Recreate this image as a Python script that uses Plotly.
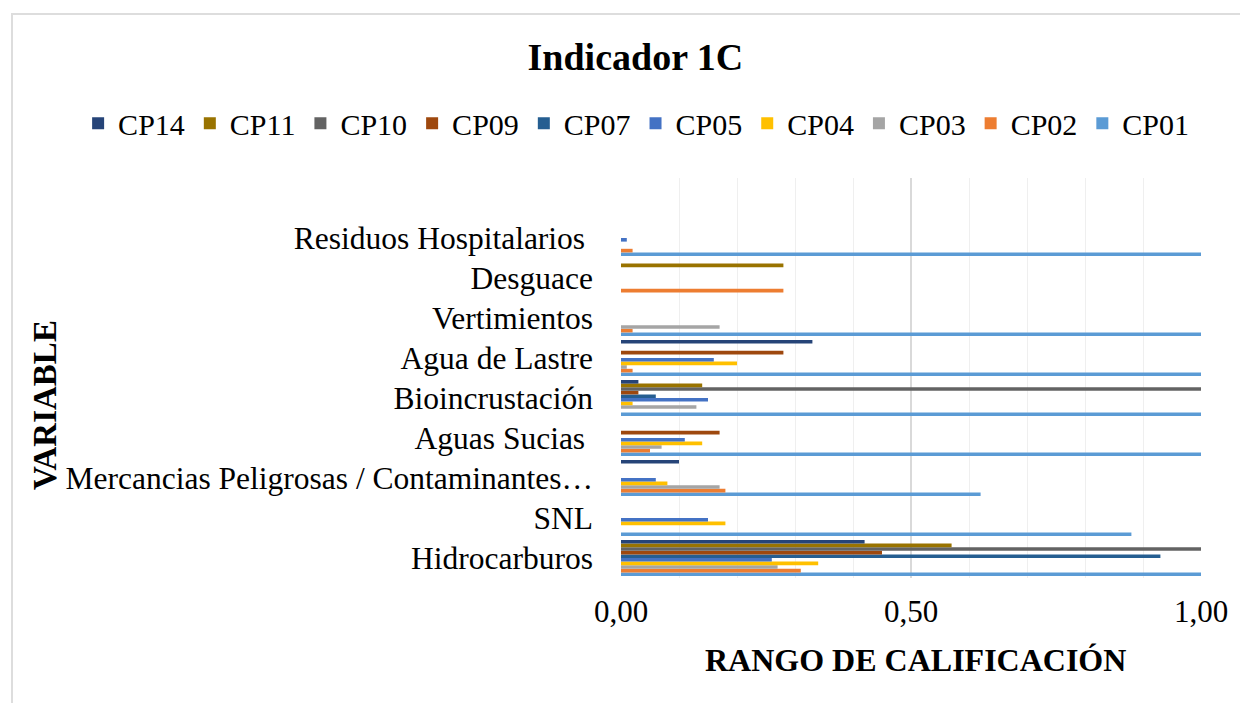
"""
Indicador 1C: rango de calificación por variable y punto de control.
"""

import plotly.graph_objects as go

# categorías de abajo hacia arriba
variables = [
    'Hidrocarburos',
    'SNL',
    'Mercancias Peligrosas / Contaminantes…',
    'Aguas Sucias ',
    'Bioincrustación',
    'Agua de Lastre',
    'Vertimientos',
    'Desguace',
    'Residuos Hospitalarios ',
]

cp01 = [1.00, 0.88, 0.62, 1.00, 1.00, 1.00, 1.00, 0.00, 1.00]
cp02 = [0.31, 0.00, 0.18, 0.05, 0.00, 0.02, 0.02, 0.28, 0.02]
cp03 = [0.27, 0.00, 0.17, 0.07, 0.13, 0.01, 0.17, 0.00, 0.00]
cp04 = [0.34, 0.18, 0.08, 0.14, 0.02, 0.20, 0.00, 0.00, 0.00]
cp05 = [0.26, 0.15, 0.06, 0.11, 0.15, 0.16, 0.00, 0.00, 0.01]
cp07 = [0.93, 0.00, 0.00, 0.00, 0.06, 0.00, 0.00, 0.00, 0.00]
cp09 = [0.45, 0.00, 0.00, 0.17, 0.03, 0.28, 0.00, 0.00, 0.00]
cp10 = [1.00, 0.00, 0.00, 0.00, 1.00, 0.00, 0.00, 0.00, 0.00]
cp11 = [0.57, 0.00, 0.00, 0.00, 0.14, 0.00, 0.00, 0.28, 0.00]
cp14 = [0.42, 0.00, 0.10, 0.00, 0.03, 0.33, 0.00, 0.00, 0.00]

series = [
    ('CP01', cp01, '#5B9BD5'),
    ('CP02', cp02, '#ED7D31'),
    ('CP03', cp03, '#A5A5A5'),
    ('CP04', cp04, '#FFC000'),
    ('CP05', cp05, '#4472C4'),
    ('CP07', cp07, '#255E91'),
    ('CP09', cp09, '#9E480E'),
    ('CP10', cp10, '#636363'),
    ('CP11', cp11, '#997300'),
    ('CP14', cp14, '#264478'),
]

FUENTE = 'Liberation Serif, Times New Roman, serif'

fig = go.Figure()

for nombre, valores, color in series:
    fig.add_trace(go.Bar(
        y=variables,
        x=valores,
        name=nombre,
        orientation='h',
        marker=dict(color=color, line=dict(width=0)),
    ))

# la página añade 8 px de margen, por eso 1240x695
fig.update_layout(
    width=1240,
    height=695,
    barmode='group',
    bargap=0.1,
    bargroupgap=0,
    plot_bgcolor='white',
    paper_bgcolor='white',
    separators=',.',
    font=dict(family=FUENTE, size=32, color='black'),
    margin=dict(l=613, r=47, t=170, b=125),
    title=dict(
        text='<b>Indicador 1C</b>',
        x=0.506, xanchor='center',
        y=0.9295, yanchor='middle',
        font=dict(size=38, family=FUENTE),
    ),
    legend=dict(
        orientation='h',
        traceorder='reversed',
        x=-0.936, xanchor='left',
        y=1.137, yanchor='middle',
        font=dict(size=30, family=FUENTE),
        tracegroupgap=0,
    ),
    xaxis=dict(
        range=[0, 1],
        dtick=0.5,
        tickformat='.2f',
        showgrid=True,
        gridcolor='#D9D9D9',
        gridwidth=1.5,
        minor=dict(dtick=0.1, showgrid=True, gridcolor='#EFEFEF', gridwidth=1),
        zeroline=False,
        showline=False,
        ticks='',
        ticklabelstandoff=12,
        tickfont=dict(size=31),
    ),
    yaxis=dict(
        range=[-0.5, 9.5],
        showgrid=False,
        zeroline=False,
        showline=False,
        ticks='',
        ticklabelstandoff=27,
        tickfont=dict(size=31.5),
    ),
    annotations=[
        dict(
            text='<b>VARIABLE</b>',
            x=-0.993, xref='paper', y=0.4325, yref='paper',
            xanchor='center', yanchor='middle',
            textangle=-90, showarrow=False,
            font=dict(size=33, family=FUENTE),
        ),
        dict(
            text='<b>RANGO DE CALIFICACIÓN</b>',
            x=0.507, xref='paper', y=-0.205, yref='paper',
            xanchor='center', yanchor='middle',
            showarrow=False,
            font=dict(size=32, family=FUENTE),
        ),
    ],
    shapes=[
        dict(
            type='rect', xref='paper', yref='paper',
            x0=-1.05, x1=1.2, y0=-0.5, y1=1.41,
            line=dict(color='#DDDDDD', width=2),
            layer='below',
        ),
    ],
)

fig.write_html('out.html')
